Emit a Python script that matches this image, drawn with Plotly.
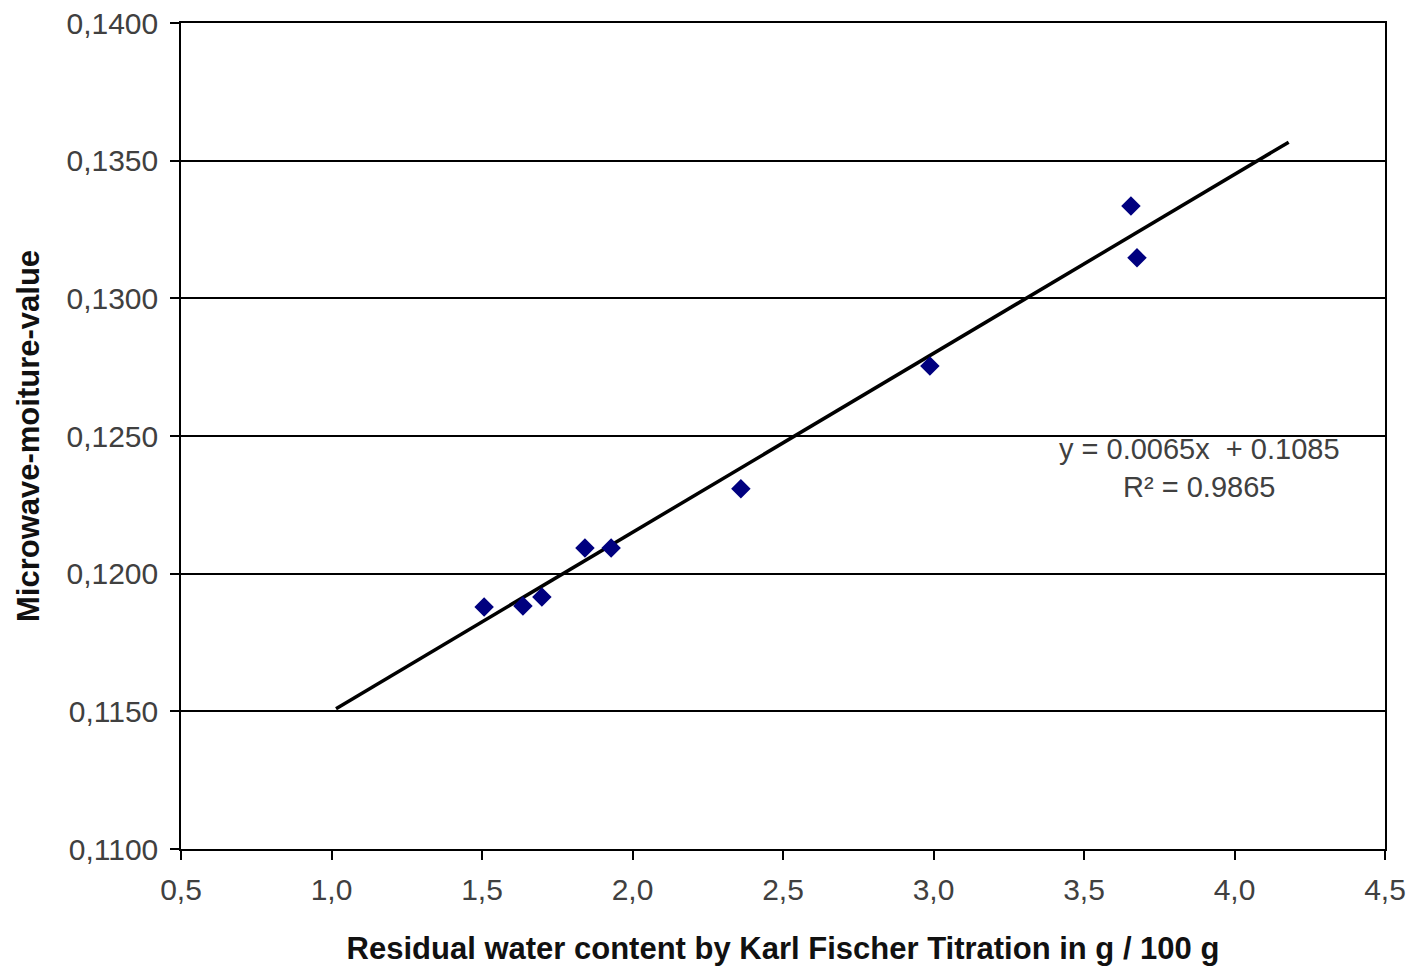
import plotly.graph_objects as go

# Data
kf_water = [1.507, 1.636, 1.699, 1.842, 1.929, 2.360, 2.988, 3.656, 3.676]
mw_value = [0.11879, 0.11883, 0.11915, 0.12093, 0.12093, 0.12308, 0.12754, 0.13335, 0.13147]

# Trend line (linear fit shown on the chart)
slope = 0.0065
intercept = 0.1085
trend_x = [1.015, 4.18]
trend_y = [slope * x + intercept for x in trend_x]

x_ticks = [0.5, 1.0, 1.5, 2.0, 2.5, 3.0, 3.5, 4.0, 4.5]
y_ticks = [0.1100, 0.1150, 0.1200, 0.1250, 0.1300, 0.1350, 0.1400]

font_family = "Liberation Sans, Arial, sans-serif"

fig = go.Figure()
fig.add_trace(go.Scatter(
    x=trend_x, y=trend_y, mode="lines",
    line=dict(color="black", width=3.5), showlegend=False, hoverinfo="skip"))
fig.add_trace(go.Scatter(
    x=kf_water, y=mw_value, mode="markers",
    marker=dict(symbol="diamond", color="#00007f", size=15, line=dict(width=0)),
    showlegend=False))

fig.add_annotation(
    x=0.846, y=0.461, xref="paper", yref="paper",
    xanchor="center", yanchor="middle",
    text="y = 0.0065x  + 0.1085<br>R² = 0.9865",
    showarrow=False, align="center",
    font=dict(family=font_family, size=29, color="#404040"))

fig.update_layout(
    width=1412, height=967,
    margin=dict(l=181, r=27, t=23, b=118),
    paper_bgcolor="white", plot_bgcolor="white",
    separators=",.",
    font=dict(family=font_family, color="#333333"),
    xaxis=dict(
        range=[0.5, 4.5], tickvals=x_ticks, tickformat=".1f",
        showgrid=False, zeroline=False, automargin=False,
        showline=True, linecolor="black", linewidth=1.5, mirror=True,
        ticks="outside", ticklen=9, tickcolor="black", tickwidth=1.5,
        ticklabelstandoff=4,
        tickfont=dict(size=30, color="#404040"),
        title=dict(text="<b>Residual water content by Karl Fischer Titration in g / 100 g</b>",
                   font=dict(size=31, color="#111111"), standoff=33),
    ),
    yaxis=dict(
        range=[0.1100, 0.1400], tickvals=y_ticks, tickformat=".4f",
        showgrid=True, gridcolor="black", gridwidth=1.5, zeroline=False, automargin=False,
        showline=True, linecolor="black", linewidth=1.5, mirror=True,
        ticks="outside", ticklen=9, tickcolor="black", tickwidth=1.5,
        ticklabelstandoff=6,
        tickfont=dict(size=30, color="#404040"),
        title=dict(text="<b>Microwave-moiture-value</b>",
                   font=dict(size=31, color="#111111"), standoff=18),
    ),
)

fig.write_html("out.html")
